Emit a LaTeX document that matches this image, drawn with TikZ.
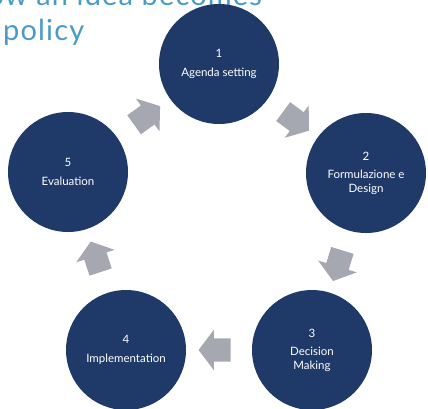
\documentclass[tikz,border=0pt]{standalone}
\usepackage{fontspec}
\setmainfont{Lato}
\usetikzlibrary{shapes.arrows,calc}

\definecolor{navy}{HTML}{1F3A68}
\definecolor{arrowgray}{HTML}{A5A8B0}
\definecolor{titleblue}{HTML}{4A9AC6}

\begin{document}
\begin{tikzpicture}[x=1pt,y=-1pt,
  phase/.style={circle,fill=navy,minimum size=120pt,inner sep=0pt,
    text=white,align=center,font=\fontsize{11.5}{13.5}\selectfont},
  flow/.style={single arrow,fill=arrowgray,inner xsep=0pt,inner ysep=11.5pt,
    minimum height=32pt,single arrow head extend=8.5pt,single arrow tip angle=106},
  title/.style={text=titleblue,inner sep=0pt,
    font=\fontsize{29}{32}\selectfont\addfontfeature{LetterSpace=4}}]

\useasboundingbox (0,0) rectangle (428,408);

% Title, cut off at the top
\node[title,anchor=base east] (titletop) at (262,5) {Policy cycle, how an idea becomes};
\node[title,anchor=base west] (title) at (3,40) {policy};

% The five phases
\node[phase] (p1) at (219,64)  {1\\[5pt]Agenda setting};
\node[phase] (p2) at (366,173) {2\\[5pt]Formulazione e\\Design};
\node[phase] (p3) at (312,350) {3\\[5pt]Decision\\Making};
\node[phase] (p4) at (126,350) {4\\[5pt]Implementation};
\node[phase] (p5) at (68,172)  {5\\[5pt]Evaluation};

% Block arrows between the phases
\foreach \a/\b/\ang in {p1/p2/-36.6, p2/p3/-107, p3/p4/180, p4/p5/108, p5/p1/35.6} {
    \node[flow,rotate=\ang] (\a-\b) at ($(\a)!0.5!(\b)$) {};
}

\end{tikzpicture}
\end{document}
